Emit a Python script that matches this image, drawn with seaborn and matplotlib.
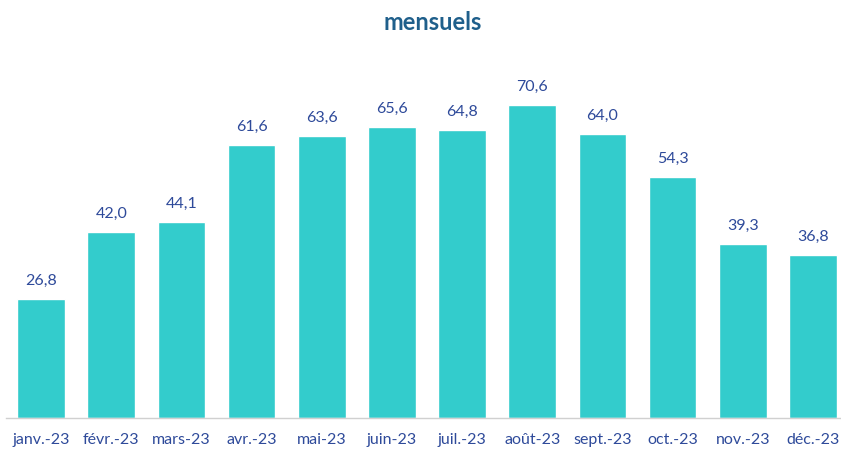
import matplotlib
matplotlib.use("Agg")
import matplotlib.pyplot as plt
import seaborn as sns
import pandas as pd
import numpy as np

months = ["janv.-23", "févr.-23", "mars-23", "avr.-23", "mai-23", "juin-23",
          "juil.-23", "août-23", "sept.-23", "oct.-23", "nov.-23", "déc.-23"]
values = [26.8, 42.0, 44.1, 61.6, 63.6, 65.6, 64.8, 70.6, 64.0, 54.3, 39.3, 36.8]
title = "mensuels"

sns.set_theme(style="white")
plt.rcParams['font.family'] = ['Lato', 'DejaVu Sans']

df = pd.DataFrame({"mois": months, "valeur": values})

fig = plt.figure(figsize=(8.41, 4.5), dpi=100)
ax = fig.add_axes([6/841, 32/450, 842/841, (418-63)/450])
sns.barplot(data=df, x="mois", y="valeur", color="#33CCCC", saturation=1,
            width=0.68, ax=ax)
ax.set_xlim(-0.5, len(months) - 0.5)
ax.set_ylim(0, 80)

label_color = "#2E4A9A"
for i, v in enumerate(values):
    ax.annotate(f"{v:.1f}".replace(".", ","), (i, v), xytext=(0, 8),
                textcoords="offset points", ha="center", va="bottom",
                fontsize=11.5, color=label_color)

ax.set_xlabel("")
ax.set_ylabel("")
ax.set_yticks([])
ax.tick_params(axis="x", which="major", length=0, labelsize=11.5,
               labelcolor=label_color, pad=11)
ax.set_xticks(np.arange(-0.5, len(months), 1), minor=True)
ax.tick_params(axis="x", which="minor", length=6, color="#D0D0D0", width=1)
for s in ["top", "right", "left"]:
    ax.spines[s].set_visible(False)
ax.spines["bottom"].set_color("#D0D0D0")
ax.spines["bottom"].set_linewidth(1)

fig.text(0.515, 1 - 22/450, title, ha="center", va="center", fontsize=17,
         fontweight="bold", color="#1F5F8B")

fig.savefig("out.png", dpi=100)
